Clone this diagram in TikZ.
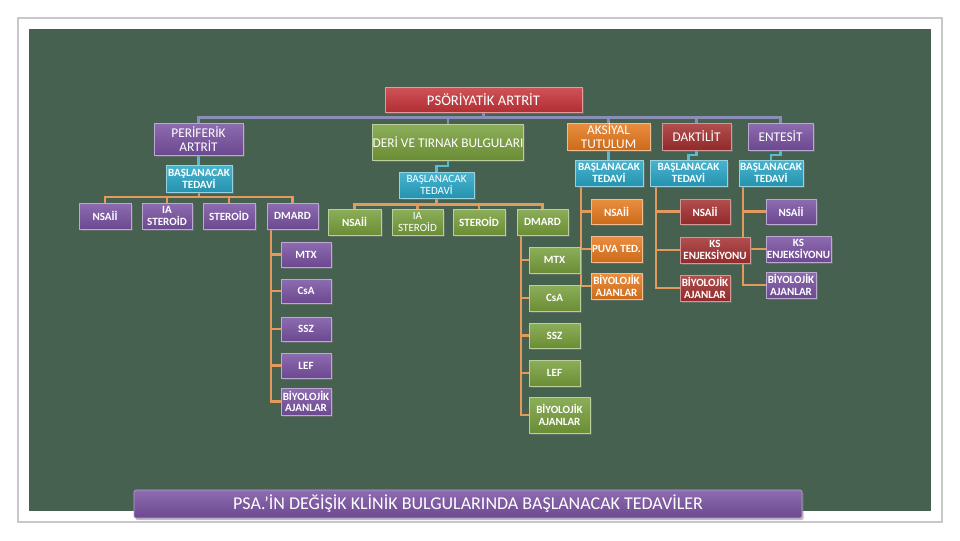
\documentclass[tikz,border=0pt]{standalone}
\usepackage{fontspec}
\setmainfont{Carlito}
\usetikzlibrary{shadows}
\definecolor{panel}{HTML}{476151}
\definecolor{cred}{HTML}{C8353A}
\definecolor{cpur}{HTML}{7A52A3}
\definecolor{cgrn}{HTML}{78A03C}
\definecolor{corg}{HTML}{E77A1E}
\definecolor{cdred}{HTML}{A53030}
\definecolor{ccyan}{HTML}{2AA7C6}
\definecolor{lorg}{HTML}{E39A5C}
\definecolor{lbus}{HTML}{8A8DB5}
\definecolor{lcyan}{HTML}{55BCD6}
\definecolor{frame}{HTML}{C8C8C8}
\pgfdeclarelayer{back}
\pgfdeclarelayer{lines}
\pgfsetlayers{back,lines,main}
\newcommand\mybox[7]{\node[#6, minimum width={(#4-#2)*0.75pt}, minimum height={(#5-#3)*0.75pt}] (#1) at ({(#2+#4)/2},{(#3+#5)/2}) {#7};}
\tikzset{
  bxbase/.style={inner sep=0pt, align=center, text=white,
    font=\bfseries\fontsize{8.3}{8.8}\selectfont,
    draw=#1!50!white, line width=0.5pt, top color=#1!85!white, bottom color=#1!88!black,
    drop shadow={shadow xshift=1.2pt, shadow yshift=-1.2pt, opacity=0.45}},
  boxP/.style={bxbase=cpur},
  boxG/.style={bxbase=cgrn},
  boxO/.style={bxbase=corg},
  boxR/.style={bxbase=cdred},
  boxC/.style={bxbase=ccyan},
  boxRoot/.style={bxbase=cred, font=\fontsize{11}{12}\selectfont},
  regtxt/.style={font=\fontsize{10}{10.5}\selectfont},
  thintxt/.style={font=\fontsize{8.3}{8.8}\selectfont},
  busline/.style={draw=lbus, line width=1.8pt},
  cyline/.style={draw=lcyan, line width=1.6pt},
  orline/.style={draw=lorg, line width=1.6pt},
}
\begin{document}
\begin{tikzpicture}[x=0.75pt,y=-0.75pt]
\useasboundingbox (0,0) rectangle (960,540);
\begin{pgfonlayer}{back}
\fill[white] (0,0) rectangle (960,540);
\draw[frame, line width=0.8pt] (18,18) rectangle (942,522);
\fill[panel] (29,29) rectangle (931,511);
\end{pgfonlayer}

% top level
\mybox{root}{385}{87}{582}{112}{boxRoot}{PSÖRİYATİK ARTRİT}
\mybox{per}{154}{123}{243}{155}{boxP,regtxt}{PERİFERİK\\ARTRİT}
\mybox{deri}{376}{124}{520}{160}{boxG,regtxt}{DERİ VE TIRNAK BULGULARI}
\mybox{aks}{567}{123}{650}{150}{boxO,regtxt}{AKSİYAL\\TUTULUM}
\mybox{dak}{662}{123}{731}{150}{boxR,regtxt}{DAKTİLİT}
\mybox{ent}{748}{123}{813}{150}{boxP,regtxt}{ENTESİT}

% start treatments
\mybox{btper}{166}{165}{232}{192}{boxC}{BAŞLANACAK\\TEDAVİ}
\mybox{btderi}{399}{172}{474}{198}{boxC,thintxt}{BAŞLANACAK\\TEDAVİ}
\mybox{btaks}{575}{160}{643}{186}{boxC}{BAŞLANACAK\\TEDAVİ}
\mybox{btdak}{650}{160}{727}{186}{boxC}{BAŞLANACAK\\TEDAVİ}
\mybox{btent}{739}{160}{803}{186}{boxC}{BAŞLANACAK\\TEDAVİ}

% left subtree
\mybox{nsa1}{79}{203}{131}{229}{boxP}{NSAİİ}
\mybox{ia1}{142}{203}{192}{229}{boxP}{IA\\STEROİD}
\mybox{st1}{203}{203}{255}{229}{boxP}{STEROİD}
\mybox{dm1}{267}{203}{318}{229}{boxP}{DMARD}
\mybox{mtx1}{281}{242}{331}{267}{boxP}{MTX}
\mybox{csa1}{281}{279}{331}{303}{boxP}{CsA}
\mybox{ssz1}{281}{317}{331}{341}{boxP}{SSZ}
\mybox{lef1}{281}{353}{331}{378}{boxP}{LEF}
\mybox{bio1}{281}{388}{331}{415}{boxP}{BİYOLOJİK\\AJANLAR}

% middle subtree
\mybox{nsa2}{328}{209}{381}{235}{boxG}{NSAİİ}
\mybox{ia2}{392}{209}{443}{235}{boxG,thintxt}{IA\\STEROİD}
\mybox{st2}{453}{209}{505}{235}{boxG}{STEROİD}
\mybox{dm2}{517}{209}{568}{235}{boxG}{DMARD}
\mybox{mtx2}{529}{247}{580}{273}{boxG}{MTX}
\mybox{csa2}{529}{285}{580}{311}{boxG}{CsA}
\mybox{ssz2}{529}{323}{580}{348}{boxG}{SSZ}
\mybox{lef2}{529}{360}{580}{386}{boxG}{LEF}
\mybox{bio2}{529}{397}{590}{433}{boxG}{BİYOLOJİK\\AJANLAR}

% aksiyal subtree
\mybox{nsa3}{591}{199}{642}{224}{boxO}{NSAİİ}
\mybox{puva3}{591}{236}{642}{262}{boxO}{PUVA TED.}
\mybox{bio3}{591}{273}{642}{299}{boxO}{BİYOLOJİK\\AJANLAR}

% daktilit subtree
\mybox{nsa4}{680}{199}{730}{224}{boxR}{NSAİİ}
\mybox{ks4}{680}{237}{750}{263}{boxR}{KS\\ENJEKSİYONU}
\mybox{bio4}{680}{275}{730}{301}{boxR}{BİYOLOJİK\\AJANLAR}

% entesit subtree
\mybox{nsa5}{766}{199}{816}{224}{boxP}{NSAİİ}
\mybox{ks5}{766}{236}{831}{262}{boxP}{KS\\ENJEKSİYONU}
\mybox{bio5}{766}{272}{816}{298}{boxP}{BİYOLOJİK\\AJANLAR}

% banner
\node[inner sep=0pt, minimum width={668*0.75pt}, minimum height={28*0.75pt},
  rounded corners=1.5pt, top color=cpur!85!white, bottom color=cpur!88!black,
  draw=cpur!55!white, line width=0.5pt, text=white,
  font=\fontsize{13.5}{14}\selectfont,
  drop shadow={shadow xshift=1.2pt, shadow yshift=-1.5pt, opacity=0.5}]
  (banner) at (468,504) {PSA.’İN DEĞİŞİK KLİNİK BULGULARINDA BAŞLANACAK TEDAVİLER};

% connectors
\begin{pgfonlayer}{lines}
\coordinate (busY) at (0,117.5);
\draw[busline] (root.south) -- (root.south |- busY);
\draw[busline] (per.north) -- (per.north |- busY) -- (ent.north |- busY) -- (ent.north);
\draw[busline] (deri.north) -- (deri.north |- busY);
\draw[busline] (aks.north) -- (aks.north |- busY);
\draw[busline] (dak.north) -- (dak.north |- busY);

\draw[cyline] (per.south) -- (per.south |- btper.north);
\draw[cyline] (deri.south) -- ++(0,6) -| (btderi.north);
\draw[cyline] (aks.south) -- (aks.south |- btaks.north);
\draw[cyline] (dak.south) -- ++(0,5) -| (btdak.north);
\draw[cyline] (ent.south) -- ++(0,5) -| (btent.north);

% left bus
\coordinate (lbY) at (0,197);
\draw[orline] (btper.south) -- (btper.south |- lbY);
\draw[orline] (nsa1.north) -- (nsa1.north |- lbY) -- (dm1.north |- lbY) -- (dm1.north);
\draw[orline] (ia1.north) -- (ia1.north |- lbY);
\draw[orline] (st1.north) -- (st1.north |- lbY);
\coordinate (v1) at ([xshift=3pt]dm1.south west);
\draw[orline] (v1) |- (bio1.west);
\foreach \n in {mtx1,csa1,ssz1,lef1} \draw[orline] (\n.west) -- (\n.west -| v1);

% middle bus
\coordinate (mbY) at (0,204.5);
\draw[orline] (btderi.south) -- (btderi.south |- mbY);
\draw[orline] (nsa2.north) -- (nsa2.north |- mbY) -- (dm2.north |- mbY) -- (dm2.north);
\draw[orline] (ia2.north) -- (ia2.north |- mbY);
\draw[orline] (st2.north) -- (st2.north |- mbY);
\coordinate (v2) at ([xshift=3.5pt]dm2.south west);
\draw[orline] (v2) |- (bio2.west);
\foreach \n in {mtx2,csa2,ssz2,lef2} \draw[orline] (\n.west) -- (\n.west -| v2);

% aksiyal
\coordinate (v3) at ([xshift=4.5pt]btaks.south west);
\draw[orline] (v3) |- (bio3.west);
\foreach \n in {nsa3,puva3} \draw[orline] (\n.west) -- (\n.west -| v3);

% daktilit
\coordinate (v4) at ([xshift=5pt]btdak.south west);
\draw[orline] (v4) |- (bio4.west);
\foreach \n in {nsa4,ks4} \draw[orline] (\n.west) -- (\n.west -| v4);

% entesit
\coordinate (v5) at ([xshift=3pt]btent.south west);
\draw[orline] (v5) |- (bio5.west);
\foreach \n in {nsa5,ks5} \draw[orline] (\n.west) -- (\n.west -| v5);
\end{pgfonlayer}
\end{tikzpicture}
\end{document}
